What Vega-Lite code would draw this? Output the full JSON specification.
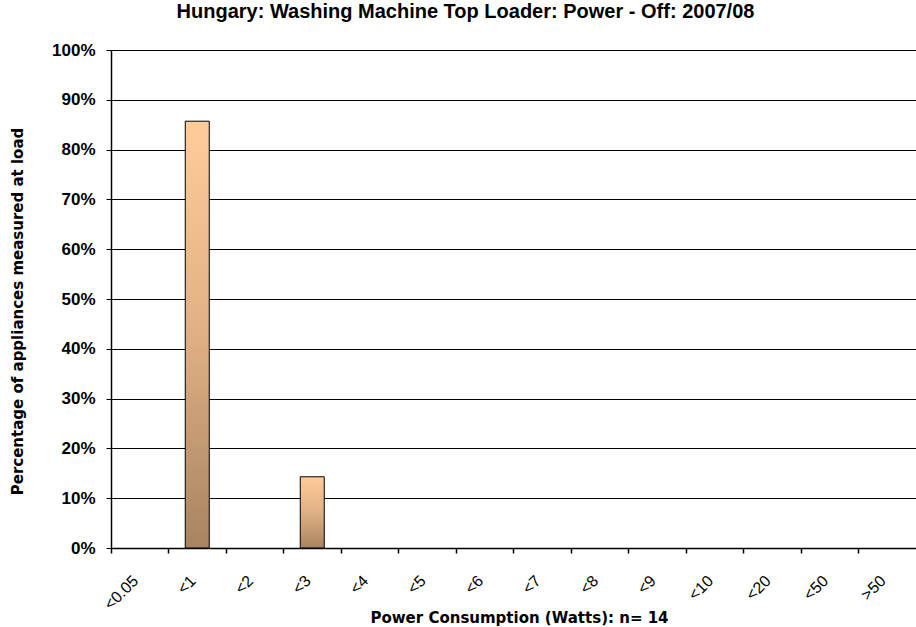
{
  "$schema": "https://vega.github.io/schema/vega-lite/v6.json",
  "width": 805,
  "height": 498,
  "autosize": "none",
  "padding": {"left": 111, "top": 50, "right": 0, "bottom": 79},
  "background": "white",
  "title": {
    "text": "Hungary: Washing Machine Top Loader: Power - Off: 2007/08",
    "font": "Liberation Sans",
    "fontSize": 20,
    "fontWeight": "bold",
    "color": "black",
    "anchor": "middle",
    "dx": -48,
    "offset": 19
  },
  "data": {
    "values": [
      {"bin": "<0.05", "pct": 0},
      {"bin": "<1", "pct": 0.857},
      {"bin": "<2", "pct": 0},
      {"bin": "<3", "pct": 0.143},
      {"bin": "<4", "pct": 0},
      {"bin": "<5", "pct": 0},
      {"bin": "<6", "pct": 0},
      {"bin": "<7", "pct": 0},
      {"bin": "<8", "pct": 0},
      {"bin": "<9", "pct": 0},
      {"bin": "<10", "pct": 0},
      {"bin": "<20", "pct": 0},
      {"bin": "<50", "pct": 0},
      {"bin": ">50", "pct": 0}
    ]
  },
  "mark": {
    "type": "bar",
    "size": 24,
    "stroke": "black",
    "color": {
      "gradient": "linear",
      "x1": 0, "y1": 0, "x2": 0, "y2": 1,
      "stops": [
        {"offset": 0, "color": "#FFCC99"},
        {"offset": 0.5, "color": "#E0B084"},
        {"offset": 1, "color": "#A8845F"}
      ]
    }
  },
  "encoding": {
    "x": {
      "field": "bin",
      "type": "nominal",
      "sort": null,
      "scale": {"paddingInner": 0, "paddingOuter": 0},
      "axis": {
        "bandPosition": 0,
        "labelAngle": -45,
        "labelAlign": "right",
        "labelBaseline": "middle",
        "labelOffset": -4,
        "labelPadding": 25,
        "labelFont": "Liberation Sans",
        "labelFontSize": 16,
        "labelColor": "black",
        "domainColor": "black",
        "domainWidth": 1.5,
        "tickColor": "black",
        "tickSize": 5,
        "tickWidth": 1.5,
        "grid": false,
        "title": "Power Consumption (Watts):  n= 14",
        "titleFont": "DejaVu Sans",
        "titleFontSize": 15,
        "titleFontWeight": "bold",
        "titleColor": "black",
        "titleX": 408,
        "titleY": 69,
        "titleBaseline": "middle",
        "titleAlign": "center"
      }
    },
    "y": {
      "field": "pct",
      "type": "quantitative",
      "scale": {"domain": [0, 1], "nice": false},
      "axis": {
        "values": [0, 0.1, 0.2, 0.3, 0.4, 0.5, 0.6, 0.7, 0.8, 0.9, 1],
        "format": ".0%",
        "labelFont": "Liberation Sans",
        "labelFontSize": 17,
        "labelFontWeight": "bold",
        "labelColor": "black",
        "labelPadding": 11,
        "domainColor": "black",
        "domainWidth": 1.5,
        "tickColor": "black",
        "tickSize": 5,
        "tickWidth": 1,
        "grid": true,
        "gridColor": "black",
        "gridWidth": 1,
        "gridOpacity": 1,
        "title": "Percentage of appliances measured at load",
        "titleFont": "DejaVu Sans",
        "titleFontSize": 15,
        "titleFontWeight": "bold",
        "titleColor": "black",
        "titleAngle": -90,
        "titleX": -94,
        "titleY": 261,
        "titleAlign": "center",
        "titleBaseline": "middle"
      }
    },
    "strokeWidth": {
      "condition": {"test": "datum.pct > 0", "value": 1},
      "value": 0
    }
  },
  "config": {
    "view": {"stroke": null}
  }
}
